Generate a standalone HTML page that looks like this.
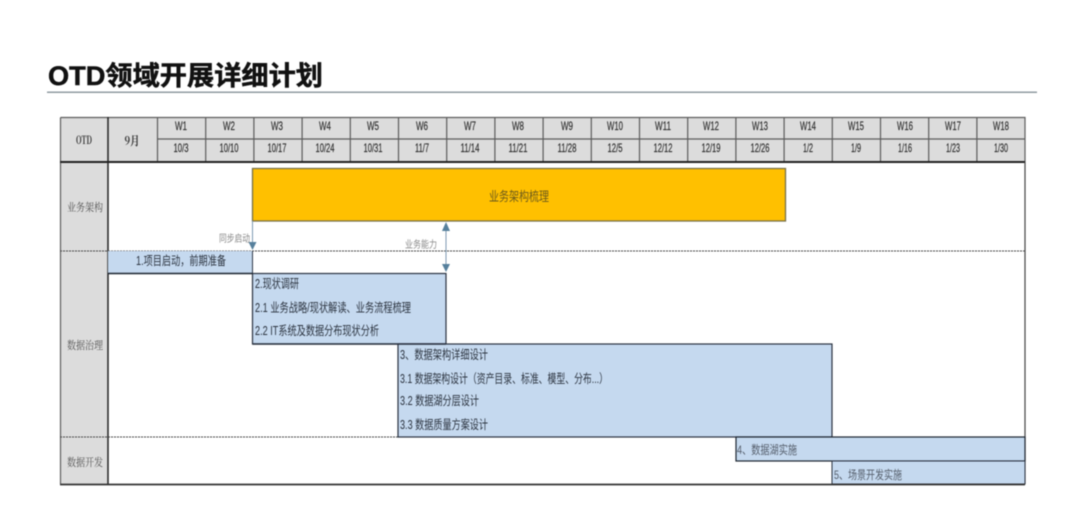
<!DOCTYPE html>
<html lang="zh"><head><meta charset="utf-8">
<style>
html,body{margin:0;padding:0;width:1080px;height:532px;overflow:hidden;background:#fff}
svg{display:block;filter:blur(0.45px)}
text{font-family:"Liberation Sans","Noto Sans CJK SC",sans-serif}
.h{font-size:12px;fill:#2a2a2a;text-anchor:middle;stroke:#2a2a2a;stroke-width:.15px}
.s{font-family:"Noto Serif CJK SC","Liberation Serif",serif;font-size:11px;fill:#555;text-anchor:middle}
.t{font-size:12.5px;fill:#2c3440}
</style></head><body>
<svg width="1080" height="532" viewBox="0 0 1080 532" xmlns="http://www.w3.org/2000/svg">
<text x="48" y="85" font-size="26.5" font-weight="700" fill="#111" stroke="#111" stroke-width=".5" textLength="275" lengthAdjust="spacingAndGlyphs">OTD领域开展详细计划</text>
<rect x="47" y="91.5" width="990" height="1.5" fill="#8f9aa0"/>

<rect x="60" y="117" width="965" height="45" fill="#dcdcdc"/>
<rect x="60" y="162" width="48" height="322" fill="#dcdcdc"/>

<g stroke="#5c5c5c" stroke-width="1.2" fill="none">
<path d="M60.5 117.5H1025V162M60.5 117.5V484M157 139H1025"/>
<path d="M157.500 117V162M205.700 117V162M253.900 117V162M302.100 117V162M350.300 117V162M398.500 117V162M446.700 117V162M494.900 117V162M543.100 117V162M591.300 117V162M639.500 117V162M687.700 117V162M735.900 117V162M784.100 117V162M832.300 117V162M880.500 117V162M928.700 117V162M976.900 117V162"/>
</g>
<path d="M60 162H1025" stroke="#222" stroke-width="2"/>
<path d="M108 117V484" stroke="#222" stroke-width="1.500"/>
<path d="M1025 162V484" stroke="#444" stroke-width="1.200"/>

<text class="s" x="84" y="144" textLength="16" lengthAdjust="spacingAndGlyphs" style="fill:#333;font-weight:700">OTD</text>
<text class="s" x="132" y="145" textLength="15" lengthAdjust="spacingAndGlyphs" style="font-size:12px;fill:#333;font-weight:700">9月</text>

<g>
<text class="h" x="181" y="130" textLength="12" lengthAdjust="spacingAndGlyphs">W1</text><text class="h" x="181" y="152" textLength="15" lengthAdjust="spacingAndGlyphs">10/3</text>
<text class="h" x="229" y="130" textLength="12" lengthAdjust="spacingAndGlyphs">W2</text><text class="h" x="229" y="152" textLength="19" lengthAdjust="spacingAndGlyphs">10/10</text>
<text class="h" x="277" y="130" textLength="12" lengthAdjust="spacingAndGlyphs">W3</text><text class="h" x="277" y="152" textLength="19" lengthAdjust="spacingAndGlyphs">10/17</text>
<text class="h" x="325" y="130" textLength="12" lengthAdjust="spacingAndGlyphs">W4</text><text class="h" x="325" y="152" textLength="19" lengthAdjust="spacingAndGlyphs">10/24</text>
<text class="h" x="373" y="130" textLength="12" lengthAdjust="spacingAndGlyphs">W5</text><text class="h" x="373" y="152" textLength="19" lengthAdjust="spacingAndGlyphs">10/31</text>
<text class="h" x="422" y="130" textLength="12" lengthAdjust="spacingAndGlyphs">W6</text><text class="h" x="422" y="152" textLength="14" lengthAdjust="spacingAndGlyphs">11/7</text>
<text class="h" x="470" y="130" textLength="12" lengthAdjust="spacingAndGlyphs">W7</text><text class="h" x="470" y="152" textLength="19" lengthAdjust="spacingAndGlyphs">11/14</text>
<text class="h" x="518" y="130" textLength="12" lengthAdjust="spacingAndGlyphs">W8</text><text class="h" x="518" y="152" textLength="19" lengthAdjust="spacingAndGlyphs">11/21</text>
<text class="h" x="567" y="130" textLength="12" lengthAdjust="spacingAndGlyphs">W9</text><text class="h" x="567" y="152" textLength="19" lengthAdjust="spacingAndGlyphs">11/28</text>
<text class="h" x="615" y="130" textLength="16" lengthAdjust="spacingAndGlyphs">W10</text><text class="h" x="615" y="152" textLength="15" lengthAdjust="spacingAndGlyphs">12/5</text>
<text class="h" x="663" y="130" textLength="16" lengthAdjust="spacingAndGlyphs">W11</text><text class="h" x="663" y="152" textLength="19" lengthAdjust="spacingAndGlyphs">12/12</text>
<text class="h" x="711" y="130" textLength="16" lengthAdjust="spacingAndGlyphs">W12</text><text class="h" x="711" y="152" textLength="19" lengthAdjust="spacingAndGlyphs">12/19</text>
<text class="h" x="760" y="130" textLength="16" lengthAdjust="spacingAndGlyphs">W13</text><text class="h" x="760" y="152" textLength="19" lengthAdjust="spacingAndGlyphs">12/26</text>
<text class="h" x="808" y="130" textLength="16" lengthAdjust="spacingAndGlyphs">W14</text><text class="h" x="808" y="152" textLength="10" lengthAdjust="spacingAndGlyphs">1/2</text>
<text class="h" x="856" y="130" textLength="16" lengthAdjust="spacingAndGlyphs">W15</text><text class="h" x="856" y="152" textLength="10" lengthAdjust="spacingAndGlyphs">1/9</text>
<text class="h" x="905" y="130" textLength="16" lengthAdjust="spacingAndGlyphs">W16</text><text class="h" x="905" y="152" textLength="14" lengthAdjust="spacingAndGlyphs">1/16</text>
<text class="h" x="953" y="130" textLength="16" lengthAdjust="spacingAndGlyphs">W17</text><text class="h" x="953" y="152" textLength="14" lengthAdjust="spacingAndGlyphs">1/23</text>
<text class="h" x="1001" y="130" textLength="16" lengthAdjust="spacingAndGlyphs">W18</text><text class="h" x="1001" y="152" textLength="14" lengthAdjust="spacingAndGlyphs">1/30</text>
</g>

<text class="s" x="85" y="211" textLength="36" lengthAdjust="spacingAndGlyphs">业务架构</text>
<text class="s" x="85" y="349" textLength="36" lengthAdjust="spacingAndGlyphs">数据治理</text>
<text class="s" x="85" y="466" textLength="36" lengthAdjust="spacingAndGlyphs">数据开发</text>

<path d="M60 251H1025M60 437H1025" stroke="#444" stroke-width="1" stroke-dasharray="2 1"/>

<rect x="252.500" y="168.500" width="533" height="52.500" fill="#ffc000" stroke="#77704a" stroke-width="1.300"/>
<text x="519" y="201" font-size="13" fill="#6b5a1c" text-anchor="middle" font-family="Noto Serif CJK SC" textLength="60" lengthAdjust="spacingAndGlyphs">业务架构梳理</text>

<rect x="108" y="251" width="144.500" height="22" fill="#c5d9ef"/>
<path d="M252.500 251V273" stroke="#2f3a4a" stroke-width="1"/>
<rect x="252.500" y="273.500" width="193.500" height="70.500" fill="#c5d9ef" stroke="#2a3240" stroke-width="1.200"/>
<path d="M108 273.500H252.500" stroke="#1d2530" stroke-width="1.500"/>
<rect x="398" y="344" width="434" height="93" fill="#c5d9ef" stroke="#2a3240" stroke-width="1.200"/>
<path d="M252.500 344H446" stroke="#2a3240" stroke-width="1.500"/>
<rect x="736" y="437" width="289" height="24" fill="#c5d9ef" stroke="#1d2530" stroke-width="1.200"/>
<rect x="832" y="461" width="193" height="23" fill="#c5d9ef" stroke="#2a3240" stroke-width="1"/>
<path d="M60 484.500H1025" stroke="#333" stroke-width="1.800"/>

<text class="t" x="136" y="265" textLength="90" lengthAdjust="spacingAndGlyphs">1.项目启动，前期准备</text>
<text class="t" x="255" y="288" textLength="44" lengthAdjust="spacingAndGlyphs">2.现状调研</text>
<text class="t" x="255" y="312" textLength="156" lengthAdjust="spacingAndGlyphs">2.1 业务战略/现状解读、业务流程梳理</text>
<text class="t" x="255" y="335" textLength="124" lengthAdjust="spacingAndGlyphs">2.2 IT系统及数据分布现状分析</text>
<text class="t" x="400" y="359" textLength="88" lengthAdjust="spacingAndGlyphs">3、数据架构详细设计</text>
<text class="t" x="400" y="383" textLength="208" lengthAdjust="spacingAndGlyphs">3.1 数据架构设计（资产目录、标准、模型、分布...）</text>
<text class="t" x="400" y="405" textLength="79" lengthAdjust="spacingAndGlyphs">3.2 数据湖分层设计</text>
<text class="t" x="400" y="429" textLength="88" lengthAdjust="spacingAndGlyphs">3.3 数据质量方案设计</text>
<text x="737" y="454" font-size="12" fill="#555e6b" font-family="Noto Serif CJK SC" textLength="60" lengthAdjust="spacingAndGlyphs">4、数据湖实施</text>
<text x="834" y="479" font-size="12" fill="#555e6b" font-family="Noto Serif CJK SC" textLength="68" lengthAdjust="spacingAndGlyphs">5、场景开发实施</text>

<path d="M252.500 221V243M446 229V265" stroke="#7d9ab3" stroke-width="1"/>
<path d="M248.500 242H256.500L252.500 250Z" fill="#56809c"/>
<path d="M446 222L450 231H442Z" fill="#56809c"/>
<path d="M442 264H450L446 272Z" fill="#56809c"/>
<text x="219" y="242" font-size="10" fill="#888" font-family="Noto Serif CJK SC" textLength="31" lengthAdjust="spacingAndGlyphs">同步启动</text>
<text x="405" y="248" font-size="10" fill="#888" font-family="Noto Serif CJK SC" textLength="32" lengthAdjust="spacingAndGlyphs">业务能力</text>
</svg>
</body></html>
